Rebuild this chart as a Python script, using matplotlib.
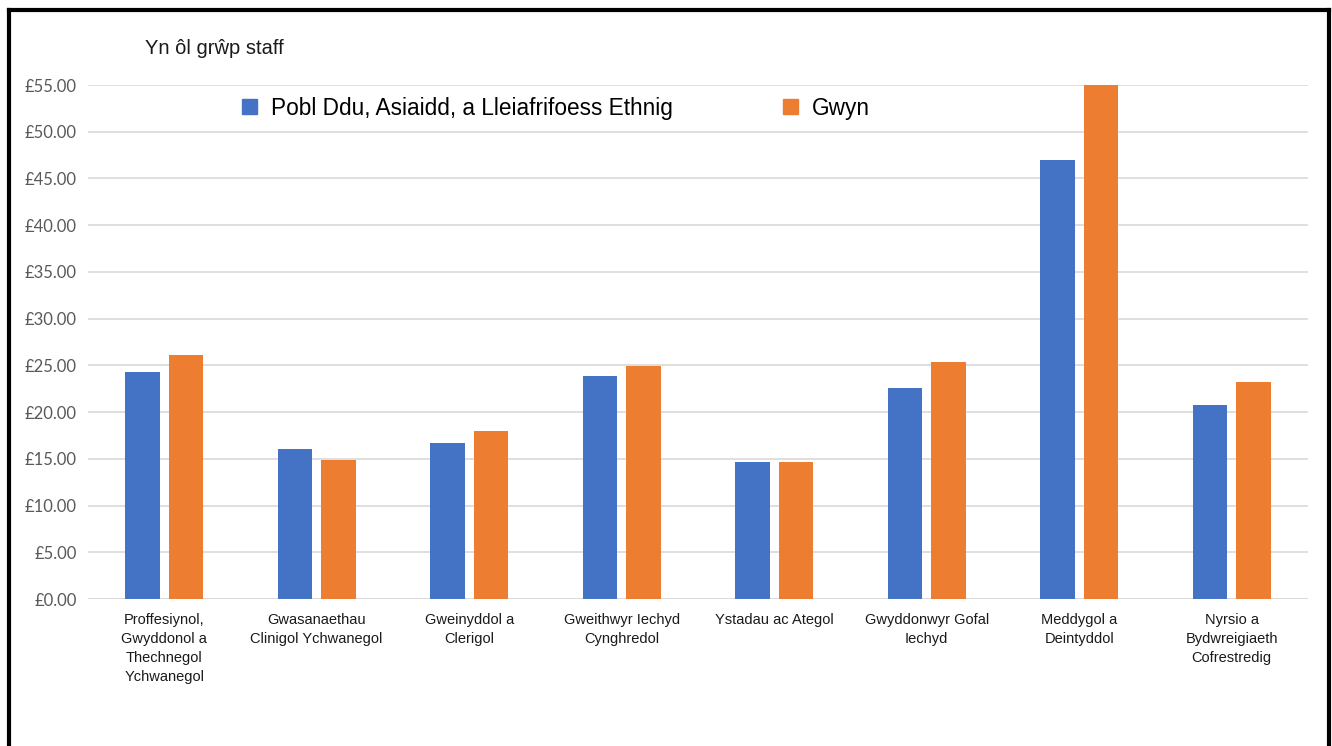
import matplotlib
matplotlib.use("Agg")
import numpy as np
import matplotlib.pyplot as plt
from matplotlib.lines import Line2D
from matplotlib.patches import Patch

categories = [
    "Proffesiynol,\nGwyddonol a\nThechnegol\nYchwanegol",
    "Gwasanaethau\nClinigol Ychwanegol",
    "Gweinyddol a\nClerigol",
    "Gweithwyr Iechyd\nCynghredol",
    "Ystadau ac Ategol",
    "Gwyddonwyr Gofal\nIechyd",
    "Meddygol a\nDeintyddol",
    "Nyrsio a\nBydwreigiaeth\nCofrestredig",
]
bame = [24.3, 16.05, 16.7, 23.9, 14.7, 22.6, 47.0, 20.8]
white = [26.1, 14.9, 18.0, 24.9, 14.7, 25.4, 55.0, 23.2]
series_names = ["Pobl Ddu, Asiaidd, a Lleiafrifoess Ethnig", "Gwyn"]
yticks = np.arange(0, 56, 5)

BLUE = "#4472C4"
ORANGE = "#ED7D31"

plt.rcParams["font.family"] = ["Liberation Sans", "DejaVu Sans"]

fig = plt.figure(figsize=(13.32, 7.46), dpi=100)
ax = fig.add_axes([0.066, 0.197, 0.916, 0.689])

x = np.arange(len(categories))
w = 0.225
off = 0.143
ax.bar(x - off, bame, w, color=BLUE, zorder=3)
ax.bar(x + off, white, w, color=ORANGE, zorder=3)

ax.set_xlim(-0.5, len(categories) - 0.5)
ax.set_ylim(0, 55)
ax.set_yticks(yticks)
ax.set_yticklabels([f"£{v:.2f}" for v in yticks], color="#595959",
                   fontsize=12, family=["Lato", "DejaVu Sans"])
ax.set_xticks(x)
ax.set_xticklabels(categories, fontsize=10.5, color="#1a1a1a", linespacing=1.45)
ax.tick_params(axis="both", length=0)
ax.tick_params(axis="x", pad=10)
ax.tick_params(axis="y", pad=8)
ax.grid(axis="y", color="#d9d9d9", linewidth=1.2, zorder=0)
for s in ax.spines.values():
    s.set_visible(False)
ax.axhline(0, color="#d9d9d9", linewidth=1.4, zorder=2)

fig.text(145 / 1332, 1 - 48 / 746, "Yn ôl grŵp staff", fontsize=14.5,
         va="center", ha="left", color="#1a1a1a")

handles = [Patch(color=BLUE), Patch(color=ORANGE)]
leg = fig.legend(handles, series_names, loc="center left",
                 bbox_to_anchor=(222 / 1332, 1 - 108 / 746), ncol=2,
                 frameon=False, fontsize=16.3, handlelength=0.65, handleheight=0.65,
                 handletextpad=0.6, columnspacing=4.9)

# outer black border (bottom edge is cut off in the reference)
lw = 3
fig.add_artist(Line2D([8.5 / 1332, 8.5 / 1332], [0, 1 - 9.5 / 746], color="black", lw=lw,
                      transform=fig.transFigure, solid_capstyle="projecting"))
fig.add_artist(Line2D([8.5 / 1332, 1328.5 / 1332], [1 - 9.5 / 746, 1 - 9.5 / 746], color="black",
                      lw=lw, transform=fig.transFigure, solid_capstyle="projecting"))
fig.add_artist(Line2D([1328.5 / 1332, 1328.5 / 1332], [0, 1 - 9.5 / 746], color="black", lw=lw,
                      transform=fig.transFigure, solid_capstyle="projecting"))

fig.savefig("out.png", dpi=100, facecolor="white")
